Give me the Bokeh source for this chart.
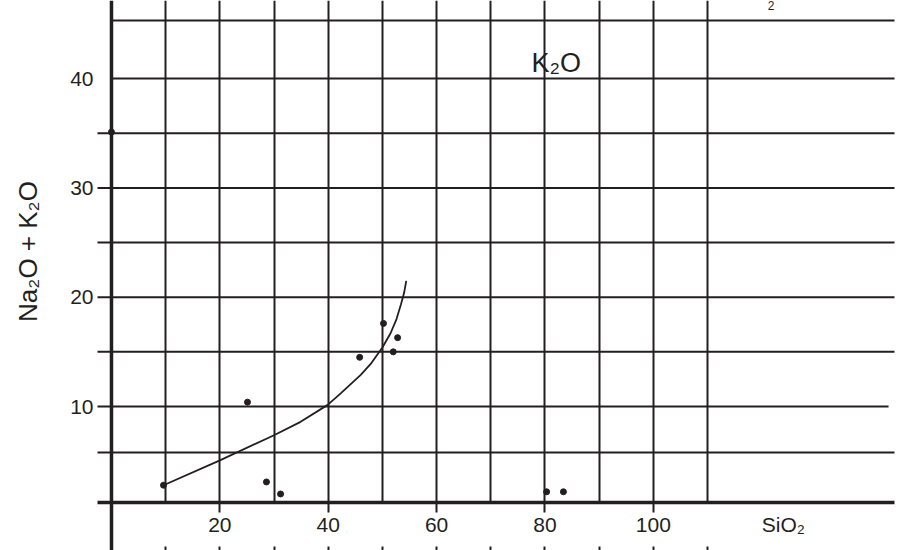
from bokeh.plotting import figure
from bokeh.models import FixedTicker, LinearAxis, Label, Span, Grid, Range1d
from bokeh.embed import file_html
from bokeh.resources import INLINE

INK = "#231f20"
FONT = "Liberation Sans"

# ---- data ----
sio2 = [0.0, 9.6, 25.1, 28.6, 31.2, 45.8, 50.2, 52.8, 52.0, 80.3, 83.4]
alkali = [35.1, 2.8, 10.4, 3.1, 2.0, 14.5, 17.6, 16.3, 15.0, 2.2, 2.2]

curve_sio2 = [9.6, 19.9, 29.9, 34.9, 39.9, 42.3, 46.0, 48.0, 50.0, 51.5, 52.6, 53.4, 54.0, 54.4]
curve_alkali = [2.8, 5.05, 7.35, 8.6, 10.15, 11.2, 12.9, 14.0, 15.4, 16.7, 18.0, 19.3, 20.4, 21.5]

x_tick_labels = [20, 40, 60, 80, 100]
x_title_at = 124.0
x_title = "SiO\u2082"
y_tick_labels = [10, 20, 30, 40]
x_grid_lines = [10, 20, 30, 40, 50, 60, 70, 80, 90, 100, 110]
y_grid_lines = [45.3, 40, 35, 30, 25, 20, 15, 10, 5.8]
y_grid_from = [0, 0, -3, -3, -3, -3, -3, -3, -3]
y_grid_to = [146, 146, 146, 146, 146, 146, 146, 143.4, 146]

p = figure(width=899, height=550, x_range=Range1d(-2.58, 144.5), y_range=Range1d(1.22, 47.14),
           x_axis_type=None, y_axis_type=None, toolbar_location=None, output_backend="svg",
           min_border_left=97, min_border_right=5, min_border_top=0, min_border_bottom=48)
p.outline_line_color = None
p.background_fill_color = "white"
p.border_fill_color = "white"

# vertical grid
p.add_layout(Grid(dimension=0, ticker=FixedTicker(ticks=x_grid_lines),
                  grid_line_color=INK, grid_line_width=2))
# horizontal grid lines
p.segment(x0=y_grid_from, y0=y_grid_lines, x1=y_grid_to, y1=y_grid_lines,
          line_color=INK, line_width=2)
# thick y axis line at SiO2 = 0
p.add_layout(Span(location=0, dimension="height", line_color=INK, line_width=3.5))

# y axis
yax = LinearAxis(ticker=FixedTicker(ticks=y_tick_labels), axis_line_color=None,
                 major_tick_line_color=None, major_tick_in=0, major_tick_out=0,
                 minor_tick_line_color=None, major_label_standoff=4,
                 major_label_text_font=FONT, major_label_text_font_size="21px",
                 major_label_text_color=INK,
                 axis_label="Na\u2082O + K\u2082O", axis_label_text_font=FONT,
                 axis_label_text_font_size="26px", axis_label_text_font_style="normal",
                 axis_label_text_color=INK, axis_label_standoff=24)
p.add_layout(yax, "left")

# x axis: numbers plus the SiO2 title on the same row; visible ticks drawn as minor ticks
xax = LinearAxis(ticker=FixedTicker(ticks=x_tick_labels + [x_title_at], minor_ticks=x_tick_labels),
                 axis_line_color=INK, axis_line_width=3.5,
                 major_tick_in=0, major_tick_out=10, major_tick_line_color=None,
                 minor_tick_in=0, minor_tick_out=10, minor_tick_line_color=INK,
                 minor_tick_line_width=2,
                 major_label_overrides={x_title_at: x_title},
                 major_label_standoff=0, major_label_text_font=FONT,
                 major_label_text_font_size="21px", major_label_text_color=INK)
p.add_layout(xax, "below")

# lower tick row and continuation of the SiO2 = 0 line
xax2 = LinearAxis(ticker=FixedTicker(ticks=[0], minor_ticks=x_grid_lines), axis_line_color=None,
                  major_tick_in=36, major_tick_out=12, major_tick_line_color=INK,
                  major_tick_line_width=3.5,
                  minor_tick_in=-8, minor_tick_out=12, minor_tick_line_color=INK,
                  minor_tick_line_width=2,
                  major_label_overrides={0: ""}, major_label_text_font_size="8px")
p.add_layout(xax2, "below")

# curve and points
p.line(curve_sio2, curve_alkali, line_color=INK, line_width=1.8)
p.scatter(sio2, alkali, size=6, color=INK)

# texts
p.add_layout(Label(x=77.5, y=41.4, text="K\u2082O", text_font=FONT, text_font_size="27px",
                   text_color=INK, text_baseline="middle"))
p.add_layout(Label(x=121.1, y=46.68, text="2", text_font=FONT, text_font_size="12px",
                   text_color=INK, text_baseline="middle"))

open("out.html", "w").write(file_html(p, INLINE))
